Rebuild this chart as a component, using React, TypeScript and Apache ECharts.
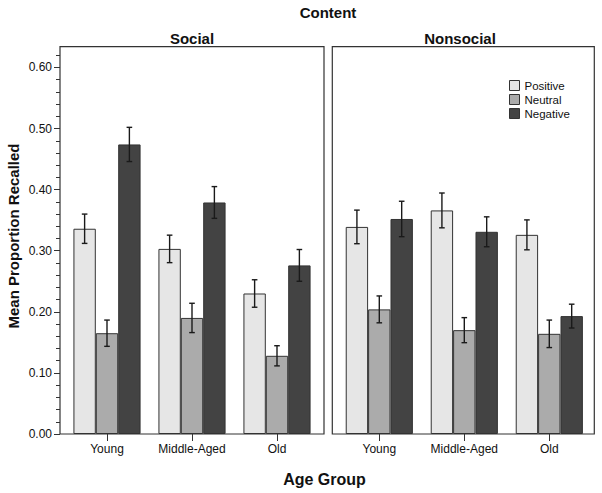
import React, { useEffect, useRef } from "react";
import * as echarts from "echarts";

const ageGroups = ["Young", "Middle-Aged", "Old"];
const valences = ["Positive", "Neutral", "Negative"];
const valenceColors = ["#e6e6e6", "#ababab", "#434343"];

// Social panel: means and error half-widths
const socialPositive = [0.336, 0.303, 0.23];
const socialNeutral = [0.165, 0.19, 0.128];
const socialNegative = [0.474, 0.379, 0.276];
const socialPositiveErr = [0.024, 0.0225, 0.0225];
const socialNeutralErr = [0.0215, 0.024, 0.0165];
const socialNegativeErr = [0.028, 0.026, 0.026];

// Nonsocial panel
const nonsocialPositive = [0.339, 0.366, 0.326];
const nonsocialNeutral = [0.204, 0.17, 0.164];
const nonsocialNegative = [0.352, 0.331, 0.193];
const nonsocialPositiveErr = [0.0275, 0.0285, 0.0245];
const nonsocialNeutralErr = [0.022, 0.0205, 0.0225];
const nonsocialNegativeErr = [0.029, 0.0245, 0.0195];

const majorTicks = [0, 0.1, 0.2, 0.3, 0.4, 0.5, 0.6];
const minorTicks = [
  0.02, 0.04, 0.06, 0.08, 0.12, 0.14, 0.16, 0.18, 0.22, 0.24, 0.26, 0.28,
  0.32, 0.34, 0.36, 0.38, 0.42, 0.44, 0.46, 0.48, 0.52, 0.54, 0.56, 0.58, 0.62,
];

const FONT = "'Liberation Sans', Arial, sans-serif";
const Y_MAX = 0.634;
const CAT_GAP = 0.21;

export default function App() {
  const ref = useRef<HTMLDivElement>(null);

  useEffect(() => {
    if (!ref.current) return;
    const chart = echarts.init(ref.current, null, { renderer: "svg" });

    const panels = [
      {
        means: [socialPositive, socialNeutral, socialNegative],
        errs: [socialPositiveErr, socialNeutralErr, socialNegativeErr],
      },
      {
        means: [nonsocialPositive, nonsocialNeutral, nonsocialNegative],
        errs: [nonsocialPositiveErr, nonsocialNeutralErr, nonsocialNegativeErr],
      },
    ];

    const gridTop = 46.7;
    const gridHeight = 387.3;
    const grids = [
      { left: 64.5, top: gridTop, width: 255, height: gridHeight, containLabel: false, outerBoundsMode: "none" },
      { left: 336.8, top: gridTop, width: 255, height: gridHeight, containLabel: false, outerBoundsMode: "none" },
    ];

    const xAxes = [0, 1].map((g) => ({
      type: "category",
      gridIndex: g,
      data: ageGroups,
      axisLine: { show: false },
      axisTick: { show: true, alignWithLabel: true, length: 7, lineStyle: { color: "#333", width: 1 } },
      axisLabel: { interval: 0, color: "#111", fontSize: 12, fontFamily: FONT, margin: 9 },
      splitLine: { show: false },
    }));

    const yAxes: any[] = [
      {
        type: "value",
        gridIndex: 0,
        position: "left",
        offset: 4.5,
        min: 0,
        max: Y_MAX,
        axisLine: { show: false },
        axisTick: { show: true, length: 6, customValues: majorTicks, lineStyle: { color: "#333", width: 1 } },
        axisLabel: {
          customValues: majorTicks,
          formatter: (v: number) => v.toFixed(2),
          color: "#111",
          fontSize: 12,
          fontFamily: FONT,
          margin: 8,
        },
        splitLine: { show: false },
      },
      {
        type: "value",
        gridIndex: 0,
        position: "left",
        offset: 4.5,
        min: 0,
        max: Y_MAX,
        axisLine: { show: false },
        axisTick: { show: true, length: 4, customValues: minorTicks, lineStyle: { color: "#333", width: 1 } },
        axisLabel: { show: false },
        splitLine: { show: false },
      },
      {
        type: "value",
        gridIndex: 1,
        min: 0,
        max: Y_MAX,
        show: false,
        splitLine: { show: false },
      },
    ];

    const series: any[] = [];
    panels.forEach((p, g) => {
      const yIdx = g === 0 ? 0 : 2;
      valences.forEach((name, k) => {
        series.push({
          type: "bar",
          name,
          xAxisIndex: g,
          yAxisIndex: yIdx,
          data: p.means[k],
          barGap: "0%",
          barCategoryGap: CAT_GAP * 100 + "%",
          itemStyle: { color: valenceColors[k], borderColor: "#333", borderWidth: 1 },
          emphasis: { disabled: true },
          z: 2,
        });
      });
      valences.forEach((_, k) => {
        const data = ageGroups.map((_, i) => [
          i,
          p.means[k][i] - p.errs[k][i],
          p.means[k][i] + p.errs[k][i],
        ]);
        series.push({
          type: "custom",
          xAxisIndex: g,
          yAxisIndex: yIdx,
          data,
          z: 5,
          renderItem: (params: any, api: any) => {
            const x = api.value(0);
            const lo = api.coord([x, api.value(1)]);
            const hi = api.coord([x, api.value(2)]);
            const band = api.size([1, 0])[0];
            const bw = (band * (1 - CAT_GAP)) / 3;
            const cx = lo[0] + (k - 1) * bw;
            const cap = 2.8;
            const st = { stroke: "#1a1a1a", lineWidth: 1.4 };
            return {
              type: "group",
              children: [
                { type: "line", shape: { x1: cx, y1: lo[1], x2: cx, y2: hi[1] }, style: st },
                { type: "line", shape: { x1: cx - cap, y1: lo[1], x2: cx + cap, y2: lo[1] }, style: st },
                { type: "line", shape: { x1: cx - cap, y1: hi[1], x2: cx + cap, y2: hi[1] }, style: st },
              ],
            };
          },
        });
      });
    });

    chart.setOption({
      animation: false,
      backgroundColor: "#ffffff",
      grid: grids,
      xAxis: xAxes,
      yAxis: yAxes,
      legend: {
        data: valences,
        orient: "vertical",
        left: 509,
        top: 79.5,
        padding: 0,
        icon: "rect",
        itemWidth: 10,
        itemHeight: 10,
        itemGap: 2,
        itemStyle: { borderColor: "#333", borderWidth: 1 },
        textStyle: { fontSize: 11.5, color: "#111", fontFamily: FONT },
        selectedMode: false,
      },
      graphic: [
        {
          type: "rect",
          shape: { x: 60, y: gridTop, width: 264, height: gridHeight },
          style: { fill: "none", stroke: "#333", lineWidth: 1.2 },
          z: 10,
          silent: true,
        },
        {
          type: "rect",
          shape: { x: 332.3, y: gridTop, width: 262, height: gridHeight },
          style: { fill: "none", stroke: "#333", lineWidth: 1.2 },
          z: 10,
          silent: true,
        },
        {
          type: "text",
          x: 328,
          y: 12,
          style: { text: "Content", font: `bold 15px ${FONT}`, fill: "#111", align: "center", verticalAlign: "middle" },
        },
        {
          type: "text",
          x: 192,
          y: 38,
          style: { text: "Social", font: `bold 15px ${FONT}`, fill: "#111", align: "center", verticalAlign: "middle" },
        },
        {
          type: "text",
          x: 460,
          y: 38,
          style: { text: "Nonsocial", font: `bold 15px ${FONT}`, fill: "#111", align: "center", verticalAlign: "middle" },
        },
        {
          type: "text",
          x: 324.5,
          y: 479,
          style: { text: "Age Group", font: `bold 16px ${FONT}`, fill: "#111", align: "center", verticalAlign: "middle" },
        },
        {
          type: "text",
          x: 13.5,
          y: 236,
          rotation: Math.PI / 2,
          style: {
            text: "Mean Proportion Recalled",
            font: `bold 15px ${FONT}`,
            fill: "#111",
            align: "center",
            verticalAlign: "middle",
          },
        },
      ],
      series,
    });

    return () => chart.dispose();
  }, []);

  return (
    <div
      ref={ref}
      style={{ position: "fixed", left: 0, top: 0, width: 602, height: 493, background: "#fff" }}
    />
  );
}
